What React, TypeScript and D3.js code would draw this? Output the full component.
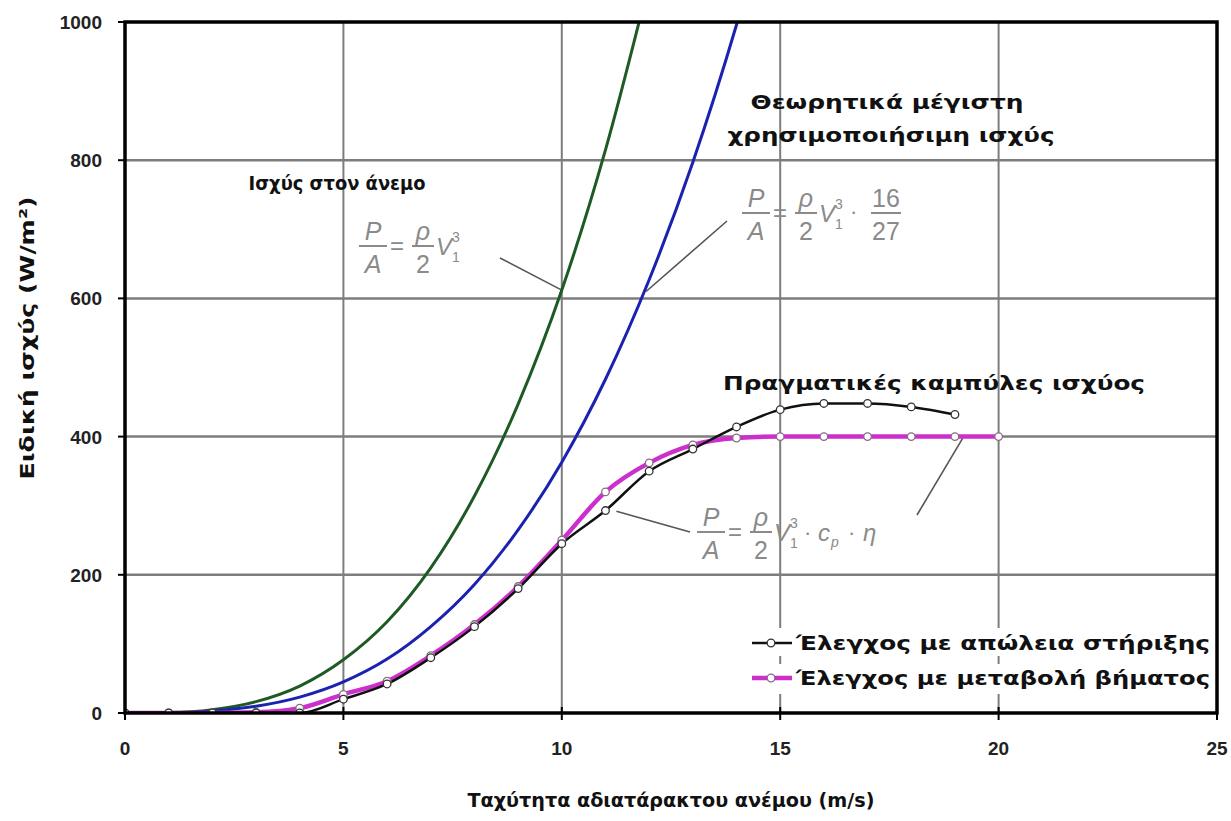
import React from "react";
import * as d3 from "d3";

// ---- data ----
const windSpeed = [0, 1, 2, 3, 4, 5, 6, 7, 8, 9, 10, 11, 12];
const windPower = [0, 0.6, 4.9, 16.5, 39, 77, 132, 210, 314, 447, 612, 815, 1058];

const betzSpeed = [0, 1, 2, 3, 4, 5, 6, 7, 8, 9, 10, 11, 12, 13, 14, 15];
const betzPower = [0, 0.4, 2.9, 9.8, 23, 45, 78, 125, 186, 265, 363, 483, 627, 797, 996, 1225];

const stallSpeed = [0, 1, 2, 3, 4, 5, 6, 7, 8, 9, 10, 11, 12, 13, 14, 15, 16, 17, 18, 19];
const stallPower = [0, 0, 0, 0, 0, 20, 42, 80, 125, 180, 245, 293, 350, 382, 414, 439, 448, 448, 443, 432];

const pitchSpeed = [0, 1, 2, 3, 4, 5, 6, 7, 8, 9, 10, 11, 12, 13, 14, 15, 16, 17, 18, 19, 20];
const pitchPower = [0, 0, 0, 1, 7, 27, 46, 83, 128, 183, 250, 320, 362, 388, 398, 400, 400, 400, 400, 400, 400];

const xTicks = [0, 5, 10, 15, 20, 25];
const yTicks = [0, 200, 400, 600, 800, 1000];

const legendLabels = ["Έλεγχος με απώλεια στήριξης", "Έλεγχος με μεταβολή βήματος"];

const W = 1231;
const H = 821;
const x = d3.scaleLinear().domain([0, 25]).range([125, 1217]);
const y = d3.scaleLinear().domain([0, 1000]).range([713, 22]);

const zip = (xs: number[], ys: number[]) => xs.map((v, i) => [v, ys[i]] as [number, number]);

const lineGen = d3
  .line<[number, number]>()
  .x((d) => x(d[0]))
  .y((d) => y(d[1]))
  .curve(d3.curveMonotoneX);

const GREEN = "#1d5a24";
const BLUE = "#1c22b0";
const MAGENTA = "#cc2fcc";
const GRID = "#7d7d7d";
const FORMULA = "#8a8a8a";
const BOLD = "'DejaVu Sans', sans-serif";
const NUM = "'Liberation Sans', Arial, sans-serif";

function Fraction({ cx, yBar, top, bottom, w, italicTop = true, italicBottom = true }: any) {
  return (
    <g>
      <text x={cx} y={yBar - 6} textAnchor="middle" fontStyle={italicTop ? "italic" : "normal"} fontSize={25}>
        {top}
      </text>
      <line x1={cx - w / 2} x2={cx + w / 2} y1={yBar} y2={yBar} stroke={FORMULA} strokeWidth={2} />
      <text x={cx} y={yBar + 27} textAnchor="middle" fontStyle={italicBottom ? "italic" : "normal"} fontSize={25}>
        {bottom}
      </text>
    </g>
  );
}

function Formula({ x0, yBar, tail }: { x0: number; yBar: number; tail: "none" | "betz" | "cp" }) {
  return (
    <g fill={FORMULA} fontFamily={NUM}>
      <Fraction cx={x0 + 13} yBar={yBar} top="P" bottom="A" w={28} />
      <text x={x0 + 37} y={yBar + 8} fontSize={24} textAnchor="middle">=</text>
      <Fraction cx={x0 + 63} yBar={yBar} top="ρ" bottom="2" w={22} italicBottom={false} />
      <text x={x0 + 76} y={yBar + 9} fontSize={24} fontStyle="italic">V</text>
      <text x={x0 + 92} y={yBar - 4} fontSize={14}>3</text>
      <text x={x0 + 92} y={yBar + 16} fontSize={14}>1</text>
      {tail === "betz" && (
        <g>
          <text x={x0 + 107} y={yBar + 6} fontSize={22}>·</text>
          <Fraction cx={x0 + 143} yBar={yBar} top="16" bottom="27" w={30} italicTop={false} italicBottom={false} />
        </g>
      )}
      {tail === "cp" && (
        <g>
          <text x={x0 + 106} y={yBar + 8} fontSize={22}>·</text>
          <text x={x0 + 120} y={yBar + 9} fontSize={24} fontStyle="italic">c</text>
          <text x={x0 + 133} y={yBar + 15} fontSize={14} fontStyle="italic">p</text>
          <text x={x0 + 150} y={yBar + 8} fontSize={22}>·</text>
          <text x={x0 + 165} y={yBar + 9} fontSize={24} fontStyle="italic">η</text>
        </g>
      )}
    </g>
  );
}

export default function App() {
  const [x0, x1] = x.range();
  const [y0, y1] = y.range();
  const windPts = zip(windSpeed, windPower);
  const betzPts = zip(betzSpeed, betzPower);
  const stallPts = zip(stallSpeed, stallPower);
  const pitchPts = zip(pitchSpeed, pitchPower);

  return (
    <svg width={W} height={H} style={{ position: "absolute", left: 0, top: 0, background: "#fff" }}>
      <defs>
        <clipPath id="plot">
          <rect x={x0} y={y1} width={x1 - x0} height={y0 - y1} />
        </clipPath>
      </defs>
      <rect width={W} height={H} fill="#fff" />

      {/* grid */}
      {xTicks.slice(1, -1).map((t) => (
        <line key={"gx" + t} x1={x(t)} x2={x(t)} y1={y1} y2={y0} stroke={GRID} strokeWidth={2} />
      ))}
      {yTicks.slice(1, -1).map((t) => (
        <line key={"gy" + t} x1={x0} x2={x1} y1={y(t)} y2={y(t)} stroke={GRID} strokeWidth={2.5} />
      ))}

      {/* leader lines */}
      <g stroke="#555" strokeWidth={1.6}>
        <line x1={500} y1={258} x2={x(10)} y2={y(612)} />
        <line x1={727} y1={221} x2={x(11.93)} y2={y(610)} />
        <line x1={690} y1={532} x2={x(11.25)} y2={y(292)} />
        <line x1={917} y1={515} x2={x(19.2)} y2={y(400)} />
      </g>

      {/* curves */}
      <g clipPath="url(#plot)" fill="none">
        <path d={lineGen(windPts) || ""} stroke={GREEN} strokeWidth={3} />
        <path d={lineGen(betzPts) || ""} stroke={BLUE} strokeWidth={3} />
        <path d={lineGen(pitchPts) || ""} stroke={MAGENTA} strokeWidth={4.5} />
        <path d={lineGen(stallPts) || ""} stroke="#111" strokeWidth={2.5} />
        {pitchPts.map((d, i) => (
          <circle key={"pm" + i} cx={x(d[0])} cy={y(d[1])} r={3.8} fill="#fff" stroke="#8a6a8a" strokeWidth={1.3} />
        ))}
        {stallPts.map((d, i) => (
          <circle key={"sm" + i} cx={x(d[0])} cy={y(d[1])} r={3.8} fill="#fff" stroke="#333" strokeWidth={1.3} />
        ))}
      </g>

      {/* frame */}
      <rect x={x0} y={y1} width={x1 - x0} height={y0 - y1} fill="none" stroke="#000" strokeWidth={3.5} />

      {/* ticks */}
      {yTicks.map((t) => (
        <g key={"yt" + t}>
          <line x1={x0 - 7} x2={x0} y1={y(t)} y2={y(t)} stroke="#000" strokeWidth={2} />
          <text x={x0 - 23} y={y(t) + 7} textAnchor="end" fontFamily={NUM} fontWeight="bold" fontSize={19} fill="#222">
            {t}
          </text>
        </g>
      ))}
      {xTicks.map((t) => (
        <g key={"xt" + t}>
          <line x1={x(t)} x2={x(t)} y1={y0 - 6} y2={y0 + 7} stroke="#000" strokeWidth={2} />
          <text x={x(t)} y={y0 + 42} textAnchor="middle" fontFamily={NUM} fontWeight="bold" fontSize={19} fill="#222">
            {t}
          </text>
        </g>
      ))}

      {/* axis titles */}
      <text
        x={671}
        y={807}
        textAnchor="middle"
        fontFamily={BOLD}
        fontWeight="bold"
        fontSize={19}
        fill="#111"
        textLength={407}
        lengthAdjust="spacingAndGlyphs"
      >
        Ταχύτητα αδιατάρακτου ανέμου (m/s)
      </text>
      <text
        transform="translate(34,338) rotate(-90)"
        textAnchor="middle"
        fontFamily={BOLD}
        fontWeight="bold"
        fontSize={20}
        fill="#111"
        textLength={283}
        lengthAdjust="spacingAndGlyphs"
      >
        Ειδική ισχύς (W/m²)
      </text>

      {/* annotation titles */}
      <g fontFamily={BOLD} fontWeight="bold" fontSize={19} fill="#111" textAnchor="middle">
        <text x={337} y={190} textLength={177} lengthAdjust="spacingAndGlyphs">Ισχύς στον άνεμο</text>
        <text x={887} y={109} textLength={273} lengthAdjust="spacingAndGlyphs">Θεωρητικά μέγιστη</text>
        <text x={891} y={142} textLength={327} lengthAdjust="spacingAndGlyphs">χρησιμοποιήσιμη ισχύς</text>
        <text x={934} y={390} textLength={422} lengthAdjust="spacingAndGlyphs">Πραγματικές καμπύλες ισχύος</text>
      </g>

      {/* formulas */}
      <Formula x0={360} yBar={246} tail="none" />
      <Formula x0={743} yBar={213} tail="betz" />
      <Formula x0={698} yBar={532} tail="cp" />

      {/* legend */}
      <g fontFamily={BOLD} fontWeight="bold" fontSize={20} fill="#111">
        <rect x={748} y={628} width={466} height={28} fill="#fff" />
        <rect x={748} y={664} width={466} height={30} fill="#fff" />
        <line x1={752} x2={792} y1={643} y2={643} stroke="#111" strokeWidth={2.5} />
        <circle cx={771} cy={643} r={3.8} fill="#fff" stroke="#333" strokeWidth={1.3} />
        <text x={796} y={650} textLength={414} lengthAdjust="spacingAndGlyphs">{legendLabels[0]}</text>
        <line x1={752} x2={792} y1={678} y2={678} stroke={MAGENTA} strokeWidth={4.5} />
        <circle cx={771} cy={678} r={3.8} fill="#fff" stroke="#8a6a8a" strokeWidth={1.3} />
        <text x={796} y={685} textLength={414} lengthAdjust="spacingAndGlyphs">{legendLabels[1]}</text>
      </g>
    </svg>
  );
}
